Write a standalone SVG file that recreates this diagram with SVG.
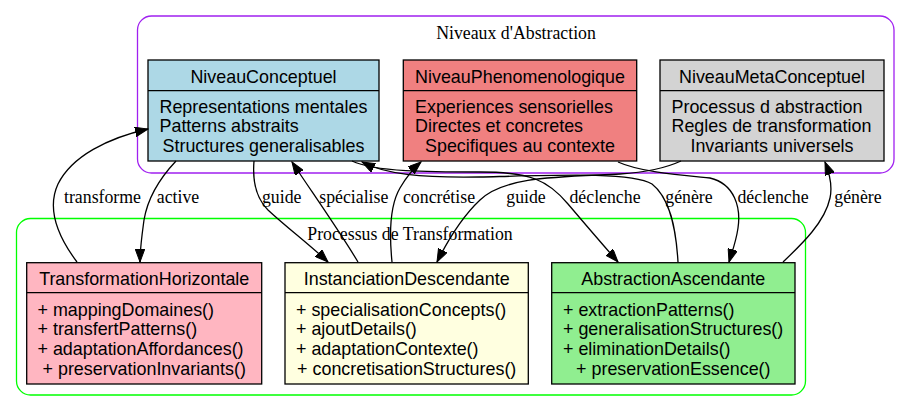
<svg xmlns="http://www.w3.org/2000/svg" width="911" height="411" viewBox="0 0 911 411">
<style>
.bg{fill:#ffffff}
.cl{fill:none;stroke-width:1.3}
.box{stroke:#000;stroke-width:1.3}
.sans{font-family:"Liberation Sans",Arial,Helvetica,sans-serif;font-size:17.9px;fill:#000}
.serif{font-family:"Liberation Serif","Times New Roman",serif;font-size:17.8px;fill:#000}
.mid{text-anchor:middle}
.edge{fill:none;stroke:#000;stroke-width:1.3}
</style>
<defs>
<marker id="ah" markerUnits="userSpaceOnUse" markerWidth="14" markerHeight="10" refX="13" refY="4.8" orient="auto">
<path d="M0,0 L13,4.8 L0,9.6 z" fill="#000" stroke="#000" stroke-width="1"/>
</marker>
</defs>
<rect class="bg" x="0" y="0" width="911" height="411"/>

<g id="cluster_niveaux">
<rect class="cl" x="137.5" y="16" width="756.5" height="157" rx="14" ry="14" stroke="#a020f0"/>
<text class="serif mid" x="516" y="39">Niveaux d'Abstraction</text>
</g>
<g id="cluster_processus">
<rect class="cl" x="16.5" y="218.5" width="789" height="176.5" rx="14" ry="14" stroke="#00ff00"/>
<text class="serif mid" x="410" y="240">Processus de Transformation</text>
</g>

<g id="NiveauConceptuel">
<rect class="box" x="148" y="60" width="231" height="101" fill="#add8e6"/>
<line class="box" x1="148" y1="90.7" x2="379" y2="90.7"/>
<text class="sans mid" x="263.5" y="82.5">NiveauConceptuel</text>
<text class="sans" x="159.5" y="112.5">Representations mentales</text>
<text class="sans" x="159.5" y="132">Patterns abstraits</text>
<text class="sans mid" x="263.5" y="151.7">Structures generalisables</text>
</g>

<g id="NiveauPhenomenologique">
<rect class="box" x="403.3" y="60" width="233.4" height="101" fill="#f08080"/>
<line class="box" x1="403.3" y1="90.7" x2="636.7" y2="90.7"/>
<text class="sans mid" x="520" y="82.5">NiveauPhenomenologique</text>
<text class="sans" x="415" y="112.5">Experiences sensorielles</text>
<text class="sans" x="415" y="132">Directes et concretes</text>
<text class="sans mid" x="520" y="151.7">Specifiques au contexte</text>
</g>

<g id="NiveauMetaConceptuel">
<rect class="box" x="660" y="60" width="224" height="101" fill="#d3d3d3"/>
<line class="box" x1="660" y1="90.7" x2="884" y2="90.7"/>
<text class="sans mid" x="772" y="82.5">NiveauMetaConceptuel</text>
<text class="sans" x="671.5" y="112.5">Processus d abstraction</text>
<text class="sans" x="671.5" y="132">Regles de transformation</text>
<text class="sans mid" x="772" y="151.7">Invariants universels</text>
</g>

<g id="TransformationHorizontale">
<rect class="box" x="26.7" y="262.7" width="235" height="121.3" fill="#ffb6c1"/>
<line class="box" x1="26.7" y1="292.7" x2="261.7" y2="292.7"/>
<text class="sans mid" x="144.2" y="285">TransformationHorizontale</text>
<text class="sans" x="37.5" y="315.5">+ mappingDomaines()</text>
<text class="sans" x="37.5" y="335">+ transfertPatterns()</text>
<text class="sans" x="37.5" y="355">+ adaptationAffordances()</text>
<text class="sans mid" x="144.2" y="374.5">+ preservationInvariants()</text>
</g>

<g id="InstanciationDescendante">
<rect class="box" x="285" y="262.7" width="243.3" height="121.3" fill="#ffffe0"/>
<line class="box" x1="285" y1="292.7" x2="528.3" y2="292.7"/>
<text class="sans mid" x="406.7" y="285">InstanciationDescendante</text>
<text class="sans" x="296" y="315.5">+ specialisationConcepts()</text>
<text class="sans" x="296" y="335">+ ajoutDetails()</text>
<text class="sans" x="296" y="355">+ adaptationContexte()</text>
<text class="sans mid" x="406.7" y="374.5">+ concretisationStructures()</text>
</g>

<g id="AbstractionAscendante">
<rect class="box" x="551.7" y="262.7" width="243.3" height="121.3" fill="#90ee90"/>
<line class="box" x1="551.7" y1="292.7" x2="795" y2="292.7"/>
<text class="sans mid" x="673.3" y="285">AbstractionAscendante</text>
<text class="sans" x="563" y="315.5">+ extractionPatterns()</text>
<text class="sans" x="563" y="335">+ generalisationStructures()</text>
<text class="sans" x="563" y="355">+ eliminationDetails()</text>
<text class="sans mid" x="673.3" y="374.5">+ preservationEssence()</text>
</g>

<g id="connectors">
<path class="edge" marker-end="url(#ah)" d="M77,262 C62,242 45,212 58,184 C72,156 108,138 148,129"/>
<text class="serif mid" x="102.5" y="203">transforme</text>

<path class="edge" marker-end="url(#ah)" d="M176,161 C160,178 148,196 144,220 C142,235 140,248 140,262"/>
<text class="serif mid" x="178" y="203">active</text>

<path class="edge" marker-end="url(#ah)" d="M254,161 C252,185 258,200 268,210 C285,226 310,245 328,262"/>
<text class="serif mid" x="281.7" y="203">guide</text>

<path class="edge" marker-end="url(#ah)" d="M358,262 C340,232 316,198 292,162"/>
<text class="serif mid" x="353.8" y="203">spécialise</text>

<path class="edge" marker-end="url(#ah)" d="M392,262 C389,232 390,205 400,188 C407,176 414,168 421,162"/>
<text class="serif mid" x="439" y="203">concrétise</text>

<path class="edge" marker-end="url(#ah)" d="M681,161 C668,167 650,172 620,174 C560,177 505,176 480,200 C464,215 448,240 437,262"/>
<text class="serif mid" x="526" y="203">guide</text>

<path class="edge" marker-end="url(#ah)" d="M352,161 C375,172 430,172 480,172 C530,172 548,180 568,204 C585,224 603,245 618,262"/>
<text class="serif mid" x="605" y="203">déclenche</text>

<path class="edge" marker-end="url(#ah)" d="M678,262 C676,228 670,198 652,184 C632,172 560,175 480,177 C420,178 385,174 362,162"/>
<text class="serif mid" x="689" y="203">génère</text>

<path class="edge" marker-end="url(#ah)" d="M618,162 C640,172 680,175 710,178 C735,184 741,208 738,228 C736,242 732,252 729,262"/>
<text class="serif mid" x="773" y="203">déclenche</text>

<path class="edge" marker-end="url(#ah)" d="M783,262 C802,244 825,222 830,198 C833,184 829,172 825,162"/>
<text class="serif mid" x="858" y="203">génère</text>
</g>
</svg>
